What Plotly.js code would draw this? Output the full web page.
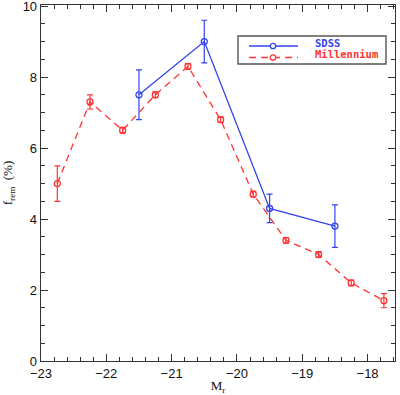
<!DOCTYPE html>
<html>
<head>
<meta charset="utf-8">
<script src="https://cdn.plot.ly/plotly-3.0.1.min.js"></script>
<style>html,body{margin:0;padding:0;background:#fff;}#chart{width:400px;height:395px;}</style>
</head>
<body>
<div id="chart"></div>
<script>
var sdssMag = [-21.5, -20.5, -19.5, -18.5];
var sdssFrem = [7.5, 9.0, 4.3, 3.8];
var sdssErr = [0.7, 0.6, 0.4, 0.6];

var milMag = [-22.75, -22.25, -21.75, -21.25, -20.75, -20.25, -19.75, -19.25, -18.75, -18.25, -17.75];
var milFrem = [5.0, 7.3, 6.5, 7.5, 8.3, 6.8, 4.7, 3.4, 3.0, 2.2, 1.7];
var milErr = [0.5, 0.2, 0.08, 0.08, 0.08, 0.08, 0.08, 0.08, 0.08, 0.08, 0.2];

var seriesNames = ['SDSS', 'Millennium'];
var xTicks = [-23, -22, -21, -20, -19, -18];
var yTicks = [0, 2, 4, 6, 8, 10];

var blue = '#3344ee';
var red = '#ff3333';
var milDash = '7px,5px';

var traces = [
  {
    x: sdssMag, y: sdssFrem, name: seriesNames[0], type: 'scatter', mode: 'lines+markers',
    line: {color: blue, width: 1.3},
    marker: {symbol: 'circle-open', size: 6, color: blue, line: {width: 1.3, color: blue}},
    error_y: {type: 'data', array: sdssErr, visible: true, color: blue, thickness: 1.2, width: 3}
  },
  {
    x: milMag, y: milFrem, name: seriesNames[1], type: 'scatter', mode: 'lines+markers',
    line: {color: red, width: 1.3, dash: milDash},
    marker: {symbol: 'circle-open', size: 6, color: red, line: {width: 1.3, color: red}},
    error_y: {type: 'data', array: milErr, visible: true, color: red, thickness: 1.2, width: 3}
  }
];

var axisCommon = {
  showline: true, linecolor: '#333', linewidth: 1.3, mirror: 'ticks',
  ticks: 'inside', ticklen: 7, tickwidth: 1, tickcolor: '#333',
  showgrid: false, zeroline: false, ticklabeloverflow: 'allow',
  tickfont: {family: 'Liberation Sans, Arial, sans-serif', size: 13, color: '#111'}
};

// compact legend box (paper coordinates of the plotting area)
var legX0 = 0.5565, legX1 = 0.9746, legY0 = 0.8343, legY1 = 0.9129;
var sampX0 = 0.5876, sampX1 = 0.726, sampMid = 0.6554;
var rowY = [0.8848, 0.8525];
var textY = [0.892, 0.861];
var textX = 0.7675;
var colors = [blue, red];
var dashes = ['solid', milDash];

var shapes = [{
  type: 'rect', xref: 'paper', yref: 'paper', x0: legX0, x1: legX1, y0: legY0, y1: legY1,
  line: {color: '#555', width: 1.4}, fillcolor: '#fff', layer: 'above'
}];
var annotations = [];
for (var i = 0; i < 2; i++) {
  shapes.push({
    type: 'line', xref: 'paper', yref: 'paper', x0: sampX0, x1: sampX1, y0: rowY[i], y1: rowY[i],
    line: {color: colors[i], width: 1.3, dash: dashes[i]}, layer: 'above'
  });
  shapes.push({
    type: 'circle', xref: 'paper', yref: 'paper', xsizemode: 'pixel', ysizemode: 'pixel',
    xanchor: sampMid, yanchor: rowY[i], x0: -2.7, x1: 2.7, y0: -2.7, y1: 2.7,
    line: {color: colors[i], width: 1.3}, fillcolor: '#fff', layer: 'above'
  });
  annotations.push({
    xref: 'paper', yref: 'paper', x: textX, y: textY[i], xanchor: 'left', yanchor: 'middle',
    text: seriesNames[i], showarrow: false,
    font: {family: 'DejaVu Sans Mono, monospace', size: 10.5, color: colors[i], weight: 'bold'}
  });
}

var layout = {
  width: 400, height: 395,
  margin: {l: 41, r: 5, t: 5, b: 34},
  paper_bgcolor: '#fff', plot_bgcolor: '#fff',
  showlegend: false,
  shapes: shapes,
  annotations: annotations,
  xaxis: Object.assign({}, axisCommon, {
    range: [-23, -17.58], tickvals: xTicks, ticktext: xTicks.map(function(v){return '\u2212' + Math.abs(v);}),
    minor: {dtick: 0.2, ticks: 'inside', ticklen: 4, tickcolor: '#333', tickwidth: 1, showgrid: false},
    title: {text: 'M<sub>r</sub>', font: {family: 'Liberation Serif, serif', size: 13, color: '#111'}, standoff: 6}
  }),
  yaxis: Object.assign({}, axisCommon, {
    range: [0, 10.03], tickvals: yTicks,
    minor: {dtick: 0.5, ticks: 'inside', ticklen: 4, tickcolor: '#333', tickwidth: 1, showgrid: false},
    title: {text: 'f<sub>rem</sub>  (%)', font: {family: 'Liberation Serif, serif', size: 13, color: '#111'}, standoff: 10}
  })
};

Plotly.newPlot('chart', traces, layout, {staticPlot: true, displayModeBar: false});
</script>
</body>
</html>
